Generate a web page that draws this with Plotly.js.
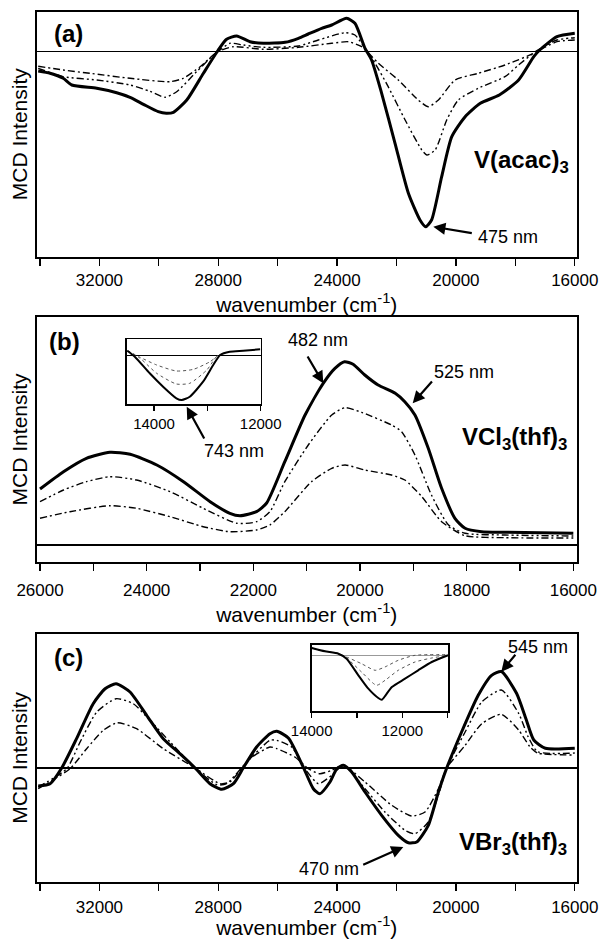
<!DOCTYPE html>
<html>
<head>
<meta charset="utf-8">
<script src="https://cdn.plot.ly/plotly-3.0.1.min.js"></script>
<style>html,body{margin:0;padding:0;background:#fff;}#chart{width:601px;height:939px;}</style>
</head>
<body>
<div id="chart"></div>
<script>
// ---------- Panel (a) V(acac)3 ----------
const aSolidX = [34060, 33660, 33220, 32930, 32090, 31420, 30970, 30520, 30020, 29750, 29510, 29060, 28500, 28000, 27720, 27380, 26930, 26480, 25750, 25300, 24970, 24520, 24180, 23680, 23400, 23060, 22840, 22500, 22050, 21600, 21210, 21020, 20820, 20480, 20140, 19690, 19180, 18540, 17890, 17380, 17180, 16600, 16000];
const aSolidY = [-19.7, -22, -27, -33.7, -37, -41.4, -46, -53, -60.4, -62, -61, -48.7, -22, 1.3, 12, 15.3, 9.6, 8, 9, 13, 17.3, 23, 26.3, 33, 28, 3, -8.7, -42, -92, -142, -168.7, -175.4, -168.7, -125.4, -85.4, -65.4, -52, -43.7, -28.7, -5.4, 1.3, 14.6, 18];
const aMidX = [34060, 33220, 32090, 30970, 30300, 29790, 29400, 28730, 28220, 28000, 27600, 27160, 26480, 25300, 24630, 23730, 23400, 23060, 22720, 22280, 21710, 21150, 20980, 20700, 20310, 19920, 19250, 18350, 17890, 17310, 16600, 16000];
const aMidY = [-17, -25.4, -28.7, -33.7, -40, -46, -40.4, -20.4, -5.4, 0, 8, 6.3, 4, 5.3, 11.3, 18.6, 16.3, 3, -12, -35.4, -68.7, -98.7, -103.7, -98.7, -68.7, -48.7, -37, -25.4, -13.7, 0, 11.3, 13.6];
const aLowX = [34060, 33220, 32320, 30970, 29620, 29180, 28610, 28170, 28000, 27490, 26480, 25300, 24180, 23620, 23170, 23000, 22610, 21940, 21270, 20930, 20590, 20030, 19250, 18350, 17380, 17270, 16600, 16000];
const aLowY = [-15, -18.7, -22, -27, -30.4, -27, -15.4, -3.7, 0, 4.6, 2, 4, 8, 9.6, 4.6, 0, -12, -28.7, -48.7, -55.4, -48.7, -28.7, -22, -13.7, -2, 0, 9.6, 11.3];

// ---------- Panel (b) VCl3(thf)3 ----------
const bSolidX = [26000, 25560, 25130, 24690, 24310, 23810, 23310, 22810, 22440, 22250, 21940, 21750, 21410, 21030, 20690, 20470, 20290, 20130, 19910, 19660, 19340, 19160, 18970, 18720, 18470, 18220, 18030, 17720, 17280, 16000];
const bSolidY = [56, 73.3, 86.7, 92.7, 90.7, 80, 63.3, 43.3, 31.7, 29.3, 33.3, 42, 83.3, 130, 161.7, 176.7, 183.3, 180.7, 170, 160, 151.7, 143.3, 130, 96.7, 56.7, 26.7, 16.7, 13.3, 12.7, 11.7];
const bMidX = [26000, 25560, 25130, 24690, 24190, 23560, 22940, 22310, 21940, 21690, 21410, 20970, 20530, 20280, 19970, 19410, 19220, 18970, 18660, 18340, 18030, 17280, 16000];
const bMidY = [43.3, 55, 63.3, 68.3, 65, 53.3, 36.7, 21.7, 23.3, 33.3, 63.3, 100, 130, 137.3, 132.7, 120, 113.3, 90, 50, 20, 11.7, 10, 9];
const bLowX = [26000, 25440, 24690, 24190, 23560, 22940, 22440, 21940, 21690, 21410, 20910, 20530, 20280, 19910, 19410, 19160, 18840, 18470, 18030, 17280, 16000];
const bLowY = [26.7, 33.3, 39.3, 36.7, 28.3, 18.3, 13.3, 15, 20, 33.3, 63.3, 76.7, 80, 75, 70, 65, 48.3, 23.3, 9.3, 7.3, 7];
// inset (b)
const ibSolidX = [14500, 14360, 14080, 13830, 13580, 13480, 13330, 13080, 12890, 12760, 12580, 12330, 12010];
const ibSolidY = [5, -1, -17.6, -31, -42.6, -44.3, -41, -26, -9.3, 0.7, 4, 5, 6.4];
const ibMidX = [14500, 14260, 13950, 13580, 13330, 13010, 12830, 12760];
const ibMidY = [5, -2.6, -17.6, -28.3, -27.6, -14.3, -1, 0.7];
const ibLowX = [14500, 14260, 13950, 13580, 13260, 12950, 12790];
const ibLowY = [5, -1.6, -9.3, -15.3, -13.6, -6, 0.7];

// ---------- Panel (c) VBr3(thf)3 ----------
const cSolidX = [34060, 33660, 33270, 32770, 32210, 31810, 31440, 30970, 30410, 29850, 29290, 28780, 28280, 27880, 27490, 27160, 26710, 26260, 26030, 25640, 25140, 24800, 24580, 24240, 24010, 23790, 23510, 23060, 22500, 21940, 21600, 21320, 20930, 20590, 20310, 19810, 19250, 18800, 18470, 17960, 17630, 17380, 16990, 16000];
const cSolidY = [-18, -15.7, 0, 29.3, 64.3, 79.3, 84.3, 76, 52.7, 29.3, 14.3, 0, -15.7, -21.3, -15.7, 0, 21, 34.3, 36.7, 30, 1, -20.7, -25.7, -14, -0.7, 2.7, -4, -24, -47.3, -67.3, -74.7, -74, -57.3, -24, 0, 36, 72.7, 92.7, 96.5, 74.7, 48, 28, 19.7, 19.7];
const cMidX = [34060, 33100, 32650, 32090, 31440, 30860, 30300, 29620, 28780, 28050, 27720, 27040, 26260, 26030, 25530, 25080, 24630, 24180, 23790, 23060, 22390, 21710, 21380, 20930, 20590, 20310, 19690, 19130, 18470, 17890, 17570, 17250, 16000];
const cMidY = [-19, -0.7, 26, 56, 69.3, 64.3, 47.7, 26, 0, -16.7, -15.7, 6, 27.7, 27.7, 21, -0.7, -15.7, -7.3, 2.7, -20.7, -44, -62.3, -65.7, -54, -27, 0, 36, 66, 78, 54.7, 31.3, 16.3, 15];
const cLowX = [34060, 32990, 32430, 31870, 31400, 30750, 29850, 28780, 27940, 27610, 26930, 26260, 26030, 25420, 24970, 24580, 24180, 23790, 23060, 22160, 21490, 21040, 20590, 20310, 19690, 19130, 18470, 17890, 17510, 17250, 16000];
const cLowY = [-20.7, -0.7, 19.3, 37.7, 45.3, 39.3, 19.3, 0, -15.7, -14, 9.3, 21, 19.3, 11, -0.7, -5.7, -2.3, 2.7, -14, -37.3, -48, -44, -20.7, 0, 22.7, 44.3, 53.7, 38, 21.3, 15, 13];
// inset (c)
const icSolidX = [14000, 13710, 13410, 13230, 12970, 12750, 12530, 12450, 12370, 12230, 11940, 11650, 11350, 10990];
const icSolidY = [7.3, 4, 1.6, -3.4, -20, -33.4, -42.7, -44.4, -40, -31.7, -23.4, -15, -6.7, 0];
const icMidX = [14000, 13710, 13410, 13230, 12900, 12570, 12380, 12090, 11720, 11350, 10990];
const icMidY = [7.3, 4, 1.6, -2.7, -16.7, -30, -25, -15, -6.7, -2.7, 0];
const icLowX = [14000, 13710, 13410, 13230, 12900, 12600, 12380, 12090, 11720, 10990];
const icLowY = [7.3, 4, 1.6, -1.7, -8.4, -15, -11.6, -5, 0, 0.7];

// ---------- text ----------
const xTitle = 'wavenumber (cm<sup>-1</sup>)';
const yTitle = 'MCD Intensity';

const FONT = 'Liberation Sans, Arial, Helvetica, sans-serif';
const DASH2 = '7px,3px,2px,3px,2px,3px';  // dash-dot-dot
const DASH1 = '7px,3px,2px,3px';          // dash-dot

function tr(x, y, xa, ya, kind) {
  let line;
  if (kind === 'solid') line = {color: '#000', width: 3, shape: 'spline', smoothing: 0.6};
  else if (kind === 'mid') line = {color: '#000', width: 1.4, dash: DASH2, shape: 'spline', smoothing: 0.6};
  else if (kind === 'low') line = {color: '#000', width: 1.4, dash: DASH1, shape: 'spline', smoothing: 0.6};
  else if (kind === 'isolid') line = {color: '#000', width: 2, shape: 'spline', smoothing: 0.6};
  else line = {color: '#555', width: 1, dash: 'dot', shape: 'spline', smoothing: 0.6};
  return {type: 'scatter', mode: 'lines', x: x, y: y, xaxis: xa, yaxis: ya, line: line, hoverinfo: 'skip', showlegend: false};
}

const data = [
  tr(aLowX, aLowY, 'x', 'y', 'low'), tr(aMidX, aMidY, 'x', 'y', 'mid'), tr(aSolidX, aSolidY, 'x', 'y', 'solid'),
  tr(bLowX, bLowY, 'x2', 'y2', 'low'), tr(bMidX, bMidY, 'x2', 'y2', 'mid'), tr(bSolidX, bSolidY, 'x2', 'y2', 'solid'),
  tr(cLowX, cLowY, 'x3', 'y3', 'low'), tr(cMidX, cMidY, 'x3', 'y3', 'mid'), tr(cSolidX, cSolidY, 'x3', 'y3', 'solid'),
  tr(ibLowX, ibLowY, 'x4', 'y4', 'idot'), tr(ibMidX, ibMidY, 'x4', 'y4', 'idot'), tr(ibSolidX, ibSolidY, 'x4', 'y4', 'isolid'),
  tr(icLowX, icLowY, 'x5', 'y5', 'idot'), tr(icMidX, icMidY, 'x5', 'y5', 'idot'), tr(icSolidX, icSolidY, 'x5', 'y5', 'isolid')
];

const W = 601, H = 939;
const px = (a, b) => [a / W, b / W];
const py = (top, bot) => [1 - bot / H, 1 - top / H];

function xax(dom, range, dtick, minor, anchor, labGap, titleGap) {
  return {
    domain: dom, range: range, anchor: anchor,
    showline: true, mirror: true, linecolor: '#000', linewidth: 2,
    ticks: 'outside', ticklen: 7, tickwidth: 1.3, tickcolor: '#000',
    tick0: 0, dtick: dtick, minor: {dtick: minor, ticks: 'outside', ticklen: 7, tickwidth: 1.3, tickcolor: '#000', showgrid: false},
    showgrid: false, zeroline: false,
    tickfont: {family: FONT, size: 17, color: '#000'},
    ticklabelstandoff: labGap,
    tickformat: 'd',
    title: {text: xTitle, font: {family: FONT, size: 21, color: '#000'}, standoff: titleGap}
  };
}
function yax(dom, range, anchor) {
  return {
    domain: dom, range: range, anchor: anchor,
    showline: true, mirror: true, linecolor: '#000', linewidth: 2,
    ticks: '', showticklabels: false, showgrid: false,
    zeroline: true, zerolinecolor: '#000', zerolinewidth: 1.5,
    title: {text: yTitle, font: {family: FONT, size: 21, color: '#000'}, standoff: 1}
  };
}
function ixax(dom, range, anchor) {
  return {
    domain: dom, range: range, anchor: anchor,
    showline: true, mirror: true, linecolor: '#000', linewidth: 1.3,
    ticks: 'outside', ticklen: 5, tickwidth: 1.2, tickcolor: '#000',
    tick0: 0, dtick: 2000, minor: {dtick: 1000, ticks: 'outside', ticklen: 5, tickwidth: 1.2, tickcolor: '#000', showgrid: false},
    showgrid: false, zeroline: false, tickformat: 'd',
    tickfont: {family: FONT, size: 15, color: '#000'}
  };
}
function iyax(dom, range, anchor, zc) {
  return {
    domain: dom, range: range, anchor: anchor,
    showline: true, mirror: true, linecolor: '#000', linewidth: 1.3,
    ticks: '', showticklabels: false, showgrid: false,
    zeroline: true, zerolinecolor: zc, zerolinewidth: 1.2
  };
}

const XD = px(36.5, 577);
const layout = {
  width: W, height: H,
  margin: {l: 0, r: 0, t: 0, b: 0},
  paper_bgcolor: '#fff', plot_bgcolor: 'rgba(0,0,0,0)',
  font: {family: FONT, color: '#000'},
  showlegend: false,
  xaxis: xax(XD, [34118, 15925], 4000, 2000, 'y', 0, 2),
  yaxis: yax(py(11.7, 256.7), [-205.4, 39.6], 'x'),
  xaxis2: xax(XD, [26066, 15931], 2000, 1000, 'y2', 5, 6),
  yaxis2: yax(py(317.2, 561.7), [-16.7, 227.8], 'x2'),
  xaxis3: xax(XD, [34118, 15925], 4000, 2000, 'y3', 2, 4),
  yaxis3: yax(py(634.3, 881.5), [-113.5, 133.7], 'x3'),
  xaxis4: ixax(px(126.7, 260.7), [14512, 12000], 'y4'),
  yaxis4: iyax(py(339, 404.3), [-48.6, 16.7], 'x4', '#000'),
  xaxis5: ixax(px(311.7, 448.3), [14000, 10985], 'y5'),
  yaxis5: iyax(py(644.7, 711.3), [-56, 10.6], 'x5', '#999'),
  annotations: []
};

function txt(x, y, xr, yr, text, size, bold, xanchor) {
  return {x: x, y: y, xref: xr, yref: yr, text: bold ? '<b>' + text + '</b>' : text,
    showarrow: false, xanchor: xanchor || 'center', yanchor: 'middle',
    font: {family: FONT, size: size, color: '#000'}};
}
function arr(x, y, xr, yr, ax, ay) {
  return {x: x, y: y, xref: xr, yref: yr, text: '', showarrow: true, ax: ax, ay: ay,
    arrowhead: 2, arrowsize: 1.1, arrowwidth: 2.2, arrowcolor: '#000', standoff: 0, startstandoff: 0};
}
layout.annotations.push(
  txt(33606, 17.3, 'x', 'y', '(a)', 24, true, 'left'),
  txt(19466, -109.7, 'x', 'y', 'V(acac)<sub>3</sub>', 24, true, 'left'),
  txt(18247, -185.4, 'x', 'y', '475 nm', 18, false),
  arr(20762, -175.4, 'x', 'y', 40, 6.6),

  txt(25874, 204, 'x2', 'y2', '(b)', 24, true, 'left'),
  txt(20788, 205, 'x2', 'y2', '482 nm', 18, false),
  arr(20688, 161.7, 'x2', 'y2', -16.6, -28.3),
  txt(18050, 173, 'x2', 'y2', '525 nm', 18, false),
  arr(19012, 141.7, 'x2', 'y2', 20.6, -23.3),
  txt(18119, 107, 'x2', 'y2', 'VCl<sub>3</sub>(thf)<sub>3</sub>', 24, true, 'left'),
  txt(22363, 94, 'x2', 'y2', '743 nm', 18, false),
  arr(23249, 138.3, 'x2', 'y2', 18.3, 33.3),

  txt(33606, 111, 'x3', 'y3', '(c)', 24, true, 'left'),
  txt(17237, 121.3, 'x3', 'y3', '545 nm', 18, false),
  arr(18473, 96.3, 'x3', 'y3', 15.3, -18.4),
  txt(24272, -100.7, 'x3', 'y3', '470 nm', 18, false),
  arr(21771, -79, 'x3', 'y3', -41.6, 18.3),
  txt(19957, -75, 'x3', 'y3', 'VBr<sub>3</sub>(thf)<sub>3</sub>', 24, true, 'left')
);

Plotly.newPlot('chart', data, layout, {staticPlot: true, displayModeBar: false});
</script>
</body>
</html>
